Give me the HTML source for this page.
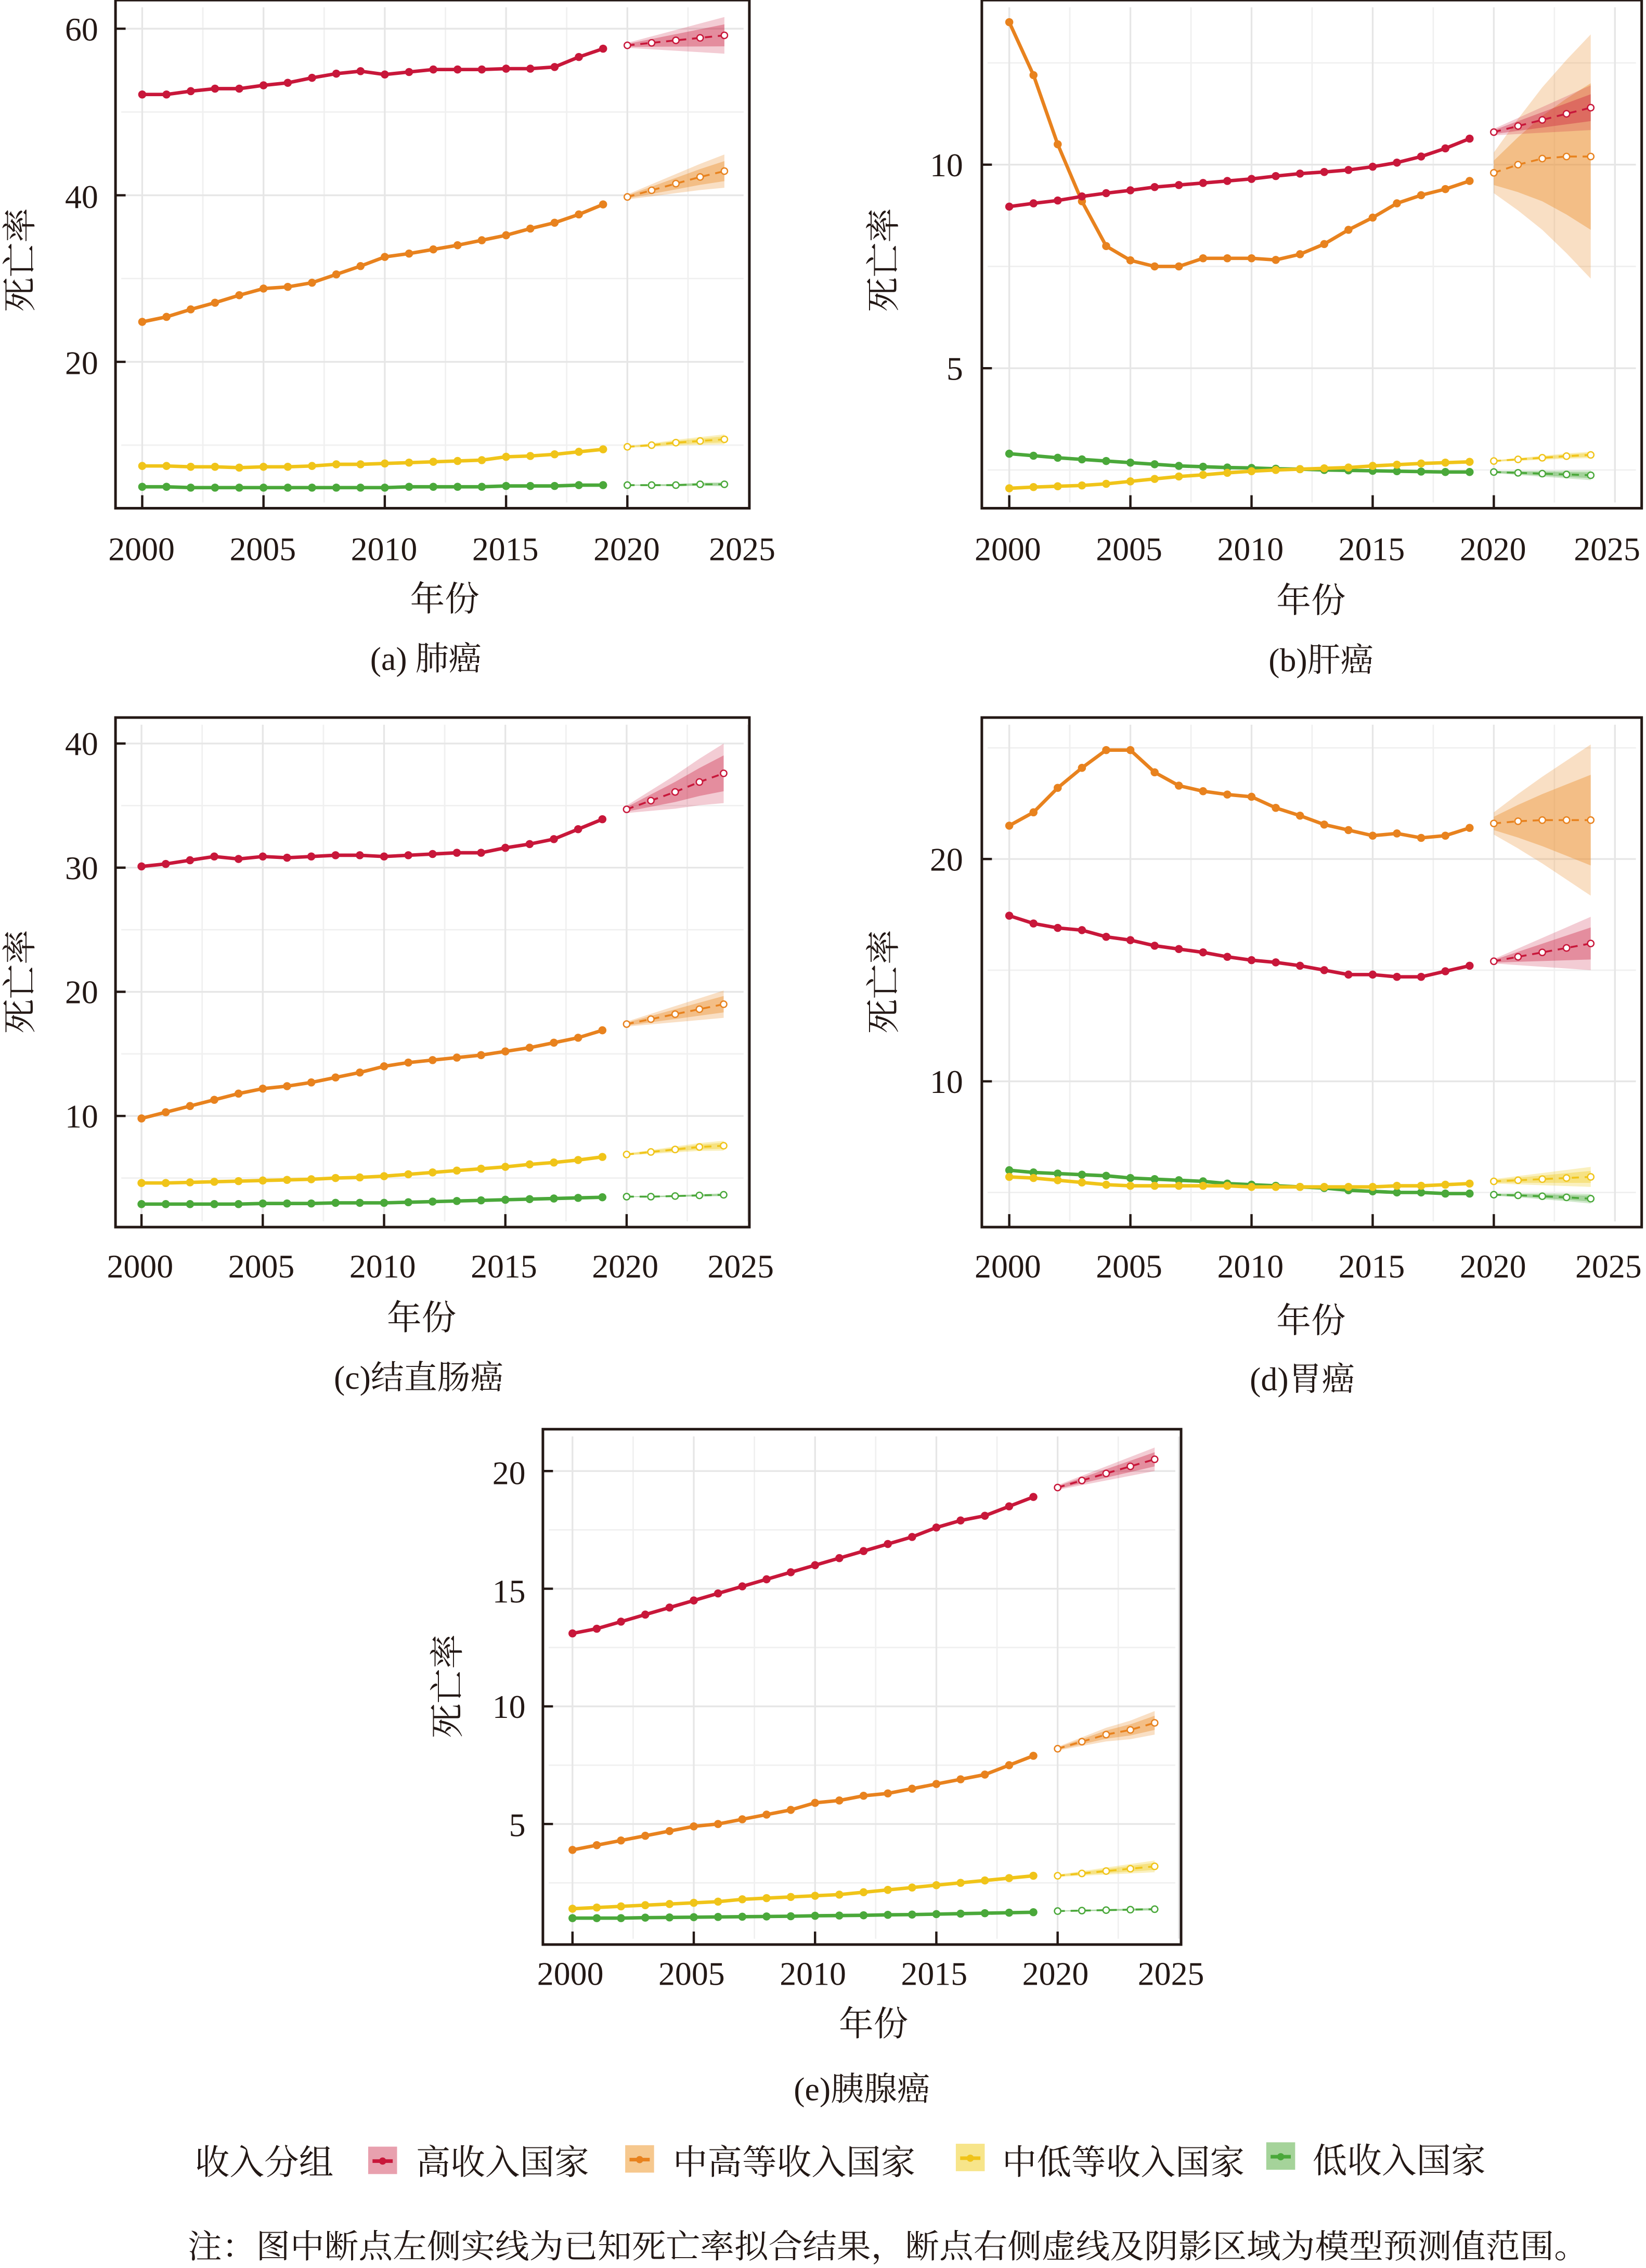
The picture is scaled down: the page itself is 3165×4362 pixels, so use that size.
<!DOCTYPE html>
<html><head><meta charset="utf-8">
<style>
html,body{margin:0;padding:0;background:#fff;}
svg{display:block;}
text{font-family:"Liberation Serif","Noto Serif CJK SC",serif;fill:#231815;}
</style></head>
<body>
<svg id="s" width="3165" height="4362" viewBox="0 0 1140 1571" xmlns="http://www.w3.org/2000/svg">
<rect x="0" y="0" width="1140" height="1571" fill="#fff"/>
<g id="plots"></g>
<!-- Panel a labels -->
<g font-size="23">
<text x="68" y="28" text-anchor="end">60</text>
<text x="68" y="144" text-anchor="end">40</text>
<text x="68" y="259" text-anchor="end">20</text>
<text x="98" y="388" text-anchor="middle">2000</text>
<text x="182" y="388" text-anchor="middle">2005</text>
<text x="266" y="388" text-anchor="middle">2010</text>
<text x="350" y="388" text-anchor="middle">2015</text>
<text x="434" y="388" text-anchor="middle">2020</text>
<text x="514" y="388" text-anchor="middle">2025</text>
</g>
<text x="308" y="423" font-size="24" text-anchor="middle">年份</text>
<text x="295" y="464" font-size="23" text-anchor="middle">(a) 肺癌</text>
<text transform="translate(22,180) rotate(-90)" font-size="24" text-anchor="middle">死亡率</text>

<!-- Panel b labels -->
<g font-size="23">
<text x="667" y="122" text-anchor="end">10</text>
<text x="667" y="263" text-anchor="end">5</text>
<text x="698" y="388" text-anchor="middle">2000</text>
<text x="782" y="388" text-anchor="middle">2005</text>
<text x="866" y="388" text-anchor="middle">2010</text>
<text x="950" y="388" text-anchor="middle">2015</text>
<text x="1034" y="388" text-anchor="middle">2020</text>
<text x="1113" y="388" text-anchor="middle">2025</text>
</g>
<text x="908" y="424" font-size="24" text-anchor="middle">年份</text>
<text x="915" y="465" font-size="23" text-anchor="middle">(b)肝癌</text>
<text transform="translate(620,180) rotate(-90)" font-size="24" text-anchor="middle">死亡率</text>

<!-- Panel c labels -->
<g font-size="23">
<text x="68" y="523" text-anchor="end">40</text>
<text x="68" y="609" text-anchor="end">30</text>
<text x="68" y="695" text-anchor="end">20</text>
<text x="68" y="781" text-anchor="end">10</text>
<text x="97" y="885" text-anchor="middle">2000</text>
<text x="181" y="885" text-anchor="middle">2005</text>
<text x="265" y="885" text-anchor="middle">2010</text>
<text x="349" y="885" text-anchor="middle">2015</text>
<text x="433" y="885" text-anchor="middle">2020</text>
<text x="513" y="885" text-anchor="middle">2025</text>
</g>
<text x="292" y="921" font-size="24" text-anchor="middle">年份</text>
<text x="290" y="962" font-size="23" text-anchor="middle">(c)结直肠癌</text>
<text transform="translate(22,680) rotate(-90)" font-size="24" text-anchor="middle">死亡率</text>

<!-- Panel d labels -->
<g font-size="23">
<text x="667" y="603" text-anchor="end">20</text>
<text x="667" y="757" text-anchor="end">10</text>
<text x="698" y="885" text-anchor="middle">2000</text>
<text x="782" y="885" text-anchor="middle">2005</text>
<text x="866" y="885" text-anchor="middle">2010</text>
<text x="950" y="885" text-anchor="middle">2015</text>
<text x="1034" y="885" text-anchor="middle">2020</text>
<text x="1114" y="885" text-anchor="middle">2025</text>
</g>
<text x="908" y="923" font-size="24" text-anchor="middle">年份</text>
<text x="902" y="963" font-size="23" text-anchor="middle">(d)胃癌</text>
<text transform="translate(620,680) rotate(-90)" font-size="24" text-anchor="middle">死亡率</text>

<!-- Panel e labels -->
<g font-size="23">
<text x="364" y="1028" text-anchor="end">20</text>
<text x="364" y="1110" text-anchor="end">15</text>
<text x="364" y="1190" text-anchor="end">10</text>
<text x="364" y="1272" text-anchor="end">5</text>
<text x="395" y="1375" text-anchor="middle">2000</text>
<text x="479" y="1375" text-anchor="middle">2005</text>
<text x="563" y="1375" text-anchor="middle">2010</text>
<text x="647" y="1375" text-anchor="middle">2015</text>
<text x="731" y="1375" text-anchor="middle">2020</text>
<text x="811" y="1375" text-anchor="middle">2025</text>
</g>
<text x="605" y="1410" font-size="24" text-anchor="middle">年份</text>
<text x="597" y="1455" font-size="23" text-anchor="middle">(e)胰腺癌</text>
<text transform="translate(318,1168) rotate(-90)" font-size="24" text-anchor="middle">死亡率</text>

<!-- Legend -->
<g font-size="24">
<text x="135" y="1506" textLength="96" lengthAdjust="spacingAndGlyphs">收入分组</text>
<rect x="255" y="1487" width="20" height="19" fill="#e8a0ae"/>
<line x1="258" y1="1497" x2="272" y2="1497" stroke="#c8173a" stroke-width="2.5"/>
<circle cx="265" cy="1497" r="2.5" fill="#c8173a"/>
<text x="288" y="1506" textLength="120" lengthAdjust="spacingAndGlyphs">高收入国家</text>
<rect x="433" y="1486" width="20" height="19" fill="#f6c88e"/>
<line x1="436" y1="1496" x2="450" y2="1496" stroke="#e8821e" stroke-width="2.5"/>
<circle cx="443" cy="1496" r="2.5" fill="#e8821e"/>
<text x="466" y="1506" textLength="168" lengthAdjust="spacingAndGlyphs">中高等收入国家</text>
<rect x="662" y="1485" width="20" height="19" fill="#f7e58a"/>
<line x1="665" y1="1495" x2="679" y2="1495" stroke="#f0c419" stroke-width="2.5"/>
<circle cx="672" cy="1495" r="2.5" fill="#f0c419"/>
<text x="694" y="1506" textLength="168" lengthAdjust="spacingAndGlyphs">中低等收入国家</text>
<rect x="877" y="1484" width="20" height="19" fill="#a5d39a"/>
<line x1="880" y1="1494" x2="894" y2="1494" stroke="#4aa83a" stroke-width="2.5"/>
<circle cx="887" cy="1494" r="2.5" fill="#4aa83a"/>
<text x="909" y="1505" textLength="120" lengthAdjust="spacingAndGlyphs">低收入国家</text>
</g>
<text x="130" y="1564" font-size="23" textLength="970" lengthAdjust="spacingAndGlyphs">注：图中断点左侧实线为已知死亡率拟合结果，断点右侧虚线及阴影区域为模型预测值范围。</text>
</svg>
<script>
var NS="http://www.w3.org/2000/svg";
var G=document.getElementById("plots");
function el(t,a,p){var e=document.createElementNS(NS,t);for(var k in a)e.setAttribute(k,a[k]);(p||G).appendChild(e);return e;}
var COL={h:"#c8173a",um:"#e8821e",lm:"#f0c419",l:"#4aa83a"};
var panels=[
{f:[80,0,519,352],x0:98.5,xp:16.8,y0:366,pu:5.77,maj:[20,40,60],min:[10,30,50],
 s:[
 ["h",[52.1,52.1,52.5,52.8,52.8,53.2,53.5,54.1,54.6,54.9,54.5,54.8,55.1,55.1,55.1,55.2,55.2,55.4,56.6,57.6],[58.0,58.3,58.6,58.9,59.2],[0.3,2.2]],
 ["um",[24.8,25.4,26.3,27.1,28.0,28.8,29.0,29.5,30.5,31.5,32.6,33.0,33.5,34.0,34.6,35.2,36.0,36.7,37.7,38.9],[39.8,40.6,41.4,42.2,42.9],[0.3,2.0]],
 ["lm",[7.5,7.5,7.4,7.4,7.3,7.4,7.4,7.5,7.7,7.7,7.8,7.9,8.0,8.1,8.2,8.6,8.7,8.9,9.2,9.5],[9.8,10.0,10.3,10.5,10.7],[0.1,0.6]],
 ["l",[5.0,5.0,4.9,4.9,4.9,4.9,4.9,4.9,4.9,4.9,4.9,5.0,5.0,5.0,5.0,5.1,5.1,5.1,5.2,5.2],[5.2,5.2,5.2,5.3,5.3],[0.05,0.25]]]},
{f:[680,0,1137,352],x0:699,xp:16.78,y0:396,pu:28.2,maj:[5,10],min:[2.5,7.5,12.5],
 s:[
 ["um",[13.5,12.2,10.5,9.1,8.0,7.65,7.5,7.5,7.7,7.7,7.7,7.66,7.8,8.05,8.4,8.7,9.05,9.25,9.4,9.6],[9.8,10.0,10.15,10.2,10.2],[0.5,3.0]],
 ["h",[8.97,9.05,9.12,9.22,9.3,9.37,9.45,9.5,9.55,9.6,9.65,9.72,9.78,9.82,9.87,9.95,10.05,10.2,10.4,10.64],[10.8,10.95,11.1,11.25,11.4],[0.08,0.55]],
 ["l",[2.9,2.85,2.8,2.76,2.72,2.68,2.64,2.6,2.58,2.56,2.55,2.53,2.52,2.5,2.49,2.48,2.47,2.46,2.45,2.45],[2.45,2.43,2.41,2.39,2.37],[0.03,0.12]],
 ["lm",[2.05,2.08,2.1,2.12,2.16,2.22,2.28,2.34,2.38,2.43,2.47,2.5,2.52,2.54,2.56,2.6,2.63,2.66,2.68,2.7],[2.72,2.76,2.8,2.84,2.87],[0.02,0.08]]]},
{f:[80,497,519,850],x0:98,xp:16.8,y0:859,pu:8.6,maj:[10,20,30,40],min:[5,15,25,35],
 s:[
 ["h",[30.1,30.3,30.6,30.9,30.7,30.9,30.8,30.9,31.0,31.0,30.9,31.0,31.1,31.2,31.2,31.6,31.9,32.3,33.1,33.9],[34.7,35.4,36.1,36.9,37.6],[0.3,2.4]],
 ["um",[9.8,10.3,10.8,11.3,11.8,12.2,12.4,12.7,13.1,13.5,14.0,14.3,14.5,14.7,14.9,15.2,15.5,15.9,16.3,16.9],[17.4,17.8,18.2,18.6,19.0],[0.2,1.1]],
 ["lm",[4.6,4.6,4.65,4.7,4.75,4.8,4.85,4.9,5.0,5.05,5.15,5.3,5.45,5.6,5.75,5.9,6.1,6.25,6.45,6.7],[6.9,7.1,7.3,7.5,7.6],[0.08,0.4]],
 ["l",[2.9,2.9,2.9,2.9,2.9,2.95,2.95,2.95,3.0,3.0,3.0,3.05,3.1,3.15,3.2,3.25,3.3,3.35,3.4,3.45],[3.5,3.5,3.55,3.6,3.65],[0.03,0.12]]]},
{f:[680,497,1137,850],x0:699,xp:16.78,y0:903,pu:15.4,maj:[10,20],min:[5,15,25],
 s:[
 ["um",[21.5,22.1,23.2,24.1,24.9,24.9,23.9,23.3,23.05,22.9,22.8,22.3,21.95,21.55,21.3,21.05,21.15,20.95,21.05,21.4],[21.6,21.7,21.75,21.75,21.75],[0.5,3.4]],
 ["h",[17.45,17.1,16.9,16.8,16.5,16.35,16.1,15.95,15.8,15.6,15.45,15.35,15.2,15.0,14.8,14.8,14.7,14.7,14.95,15.2],[15.4,15.6,15.8,16.0,16.2],[0.1,1.2]],
 ["l",[6.0,5.9,5.85,5.8,5.75,5.65,5.6,5.55,5.5,5.4,5.35,5.3,5.25,5.2,5.1,5.05,5.0,5.0,4.95,4.95],[4.9,4.87,4.83,4.78,4.72],[0.05,0.22]],
 ["lm",[5.7,5.65,5.55,5.45,5.35,5.3,5.3,5.3,5.3,5.3,5.25,5.25,5.25,5.25,5.25,5.25,5.3,5.3,5.35,5.4],[5.5,5.55,5.6,5.65,5.7],[0.1,0.45]]]},
{f:[376,990,818,1347],x0:396.5,xp:16.8,y0:1345,pu:16.3,maj:[5,10,15,20],min:[2.5,7.5,12.5,17.5],
 s:[
 ["h",[13.1,13.3,13.6,13.9,14.2,14.5,14.8,15.1,15.4,15.7,16.0,16.3,16.6,16.9,17.2,17.6,17.9,18.1,18.5,18.9],[19.3,19.6,19.9,20.2,20.5],[0.1,0.5]],
 ["um",[3.9,4.1,4.3,4.5,4.7,4.9,5.0,5.2,5.4,5.6,5.9,6.0,6.2,6.3,6.5,6.7,6.9,7.1,7.5,7.9],[8.2,8.5,8.8,9.0,9.3],[0.08,0.5]],
 ["lm",[1.4,1.45,1.5,1.55,1.6,1.65,1.7,1.8,1.85,1.9,1.95,2.0,2.1,2.2,2.3,2.4,2.5,2.6,2.7,2.8],[2.8,2.9,3.0,3.1,3.2],[0.05,0.25]],
 ["l",[1.0,1.0,1.0,1.02,1.03,1.04,1.05,1.06,1.07,1.08,1.1,1.11,1.12,1.14,1.15,1.17,1.19,1.21,1.23,1.25],[1.3,1.32,1.34,1.36,1.38],[0.02,0.06]]]}
];
var LIGHT={h:"rgba(200,23,58,0.22)",um:"rgba(236,150,60,0.30)",lm:"rgba(240,205,40,0.30)",l:"rgba(74,168,58,0.25)"};
var MID={h:"rgba(200,23,58,0.35)",um:"rgba(236,150,60,0.45)",lm:"rgba(240,205,40,0.40)",l:"rgba(74,168,58,0.35)"};
panels.forEach(function(p,i){
  var f=p.f, X=function(y){return p.x0+(y-2000)*p.xp;}, Y=function(v){return p.y0-v*p.pu;};
  var cid="c"+i;
  var d=el("defs",{});var cp=el("clipPath",{id:cid},d);el("rect",{x:f[0]+1,y:f[1]+1,width:f[2]-f[0]-2,height:f[3]-f[1]-2},cp);
  var g=el("g",{"clip-path":"url(#"+cid+")"});
  for(var yr=2002.5;yr<=2025;yr+=5)el("line",{x1:X(yr),x2:X(yr),y1:f[1]+5,y2:f[3]-4,stroke:"#f0f0f0","stroke-width":1},g);
  p.min.forEach(function(v){el("line",{x1:f[0]+4,x2:f[2]-4,y1:Y(v),y2:Y(v),stroke:"#f0f0f0","stroke-width":1},g);});
  for(var yr=2000;yr<=2025;yr+=5)el("line",{x1:X(yr),x2:X(yr),y1:f[1]+5,y2:f[3]-4,stroke:"#e6e6e6","stroke-width":1.2},g);
  p.maj.forEach(function(v){el("line",{x1:f[0]+4,x2:f[2]-4,y1:Y(v),y2:Y(v),stroke:"#e6e6e6","stroke-width":1.2},g);});
  for(var yr=2000;yr<=2020;yr+=5)el("line",{x1:X(yr),x2:X(yr),y1:f[3]-9,y2:f[3],stroke:"#231815","stroke-width":1.6});
  p.maj.forEach(function(v){el("line",{x1:f[0],x2:f[0]+7,y1:Y(v),y2:Y(v),stroke:"#231815","stroke-width":1.6});});
  p.s.forEach(function(s){
    var k=s[0],fc=s[2],w=s[3];
    [[1,LIGHT[k]],[0.6,MID[k]]].forEach(function(b){
      var up=[],dn=[];
      for(var j=0;j<5;j++){var hw=(w[0]+(w[1]-w[0])*j/4)*b[0];up.push(X(2020+j)+","+Y(fc[j]+hw));dn.unshift(X(2020+j)+","+Y(fc[j]-hw));}
      el("polygon",{points:up.concat(dn).join(" "),fill:b[1]},g);
    });
  });
  p.s.forEach(function(s){
    var k=s[0],c=COL[k],pts=s[1].map(function(v,j){return X(2000+j)+","+Y(v);});
    el("polyline",{points:pts.join(" "),fill:"none",stroke:c,"stroke-width":2.4,"stroke-linejoin":"round"},g);
    s[1].forEach(function(v,j){el("circle",{cx:X(2000+j),cy:Y(v),r:2.8,fill:c},g);});
    var fp=s[2].map(function(v,j){return X(2020+j)+","+Y(v);});
    el("polyline",{points:fp.join(" "),fill:"none",stroke:c,"stroke-width":1.3,"stroke-dasharray":"5,4"},g);
    s[2].forEach(function(v,j){el("circle",{cx:X(2020+j),cy:Y(v),r:2.2,fill:"#fff",stroke:c,"stroke-width":0.9},g);});
  });
  el("rect",{x:f[0],y:f[1],width:f[2]-f[0],height:f[3]-f[1],fill:"none",stroke:"#231815","stroke-width":1.8});
});
</script>
</body></html>
